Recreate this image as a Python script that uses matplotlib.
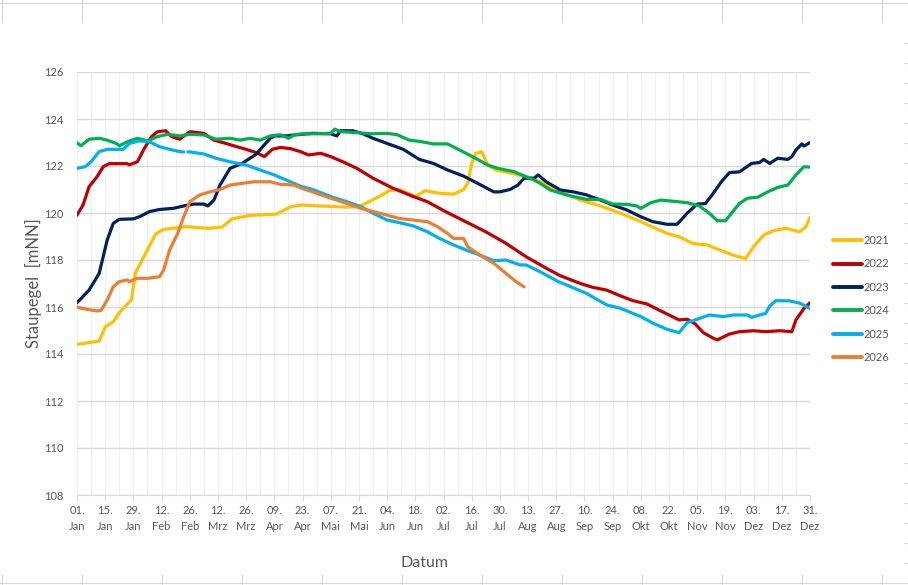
import numpy as np
import matplotlib
matplotlib.use('Agg')
import matplotlib.pyplot as plt
from matplotlib.lines import Line2D

plt.rcParams['font.family'] = ['Lato', 'DejaVu Sans']

# tick labels (every 14 days from 01. Jan)
tick_days = list(range(0, 365, 14))
tick_labels = ['01.\nJan', '15.\nJan', '29.\nJan', '12.\nFeb', '26.\nFeb', '12.\nMrz', '26.\nMrz',
               '09.\nApr', '23.\nApr', '07.\nMai', '21.\nMai', '04.\nJun', '18.\nJun', '02.\nJul',
               '16.\nJul', '30.\nJul', '13.\nAug', '27.\nAug', '10.\nSep', '24.\nSep', '08.\nOkt',
               '22.\nOkt', '05.\nNov', '19.\nNov', '03.\nDez', '17.\nDez', '31.\nDez']

years = ['2021', '2022', '2023', '2024', '2025', '2026']
colors = ['#FFC000', '#C00000', '#002060', '#00B050', '#00B0F0', '#ED7D31']

days_2021 = [0, 7, 11, 14, 18, 21, 27, 29, 33, 39, 43, 54, 65, 72, 77, 86, 99, 106, 111, 120, 134, 140,
             145, 150, 155, 160, 168, 173, 180, 187, 192, 194, 196, 198, 201, 204, 208, 216, 226, 230,
             240, 250, 260, 270, 280, 293, 299, 306, 313, 319, 326, 332, 336, 341, 346, 352, 359, 362, 364]
vals_2021 = [114.41, 114.5, 114.55, 115.16, 115.37, 115.76, 116.3, 117.45, 118.1, 119.1, 119.3, 119.42,
             119.35, 119.4, 119.75, 119.9, 119.95, 120.26, 120.34, 120.3, 120.25, 120.28, 120.48, 120.7,
             120.95, 121.0, 120.7, 120.95, 120.84, 120.8, 121.0, 121.26, 122.11, 122.54, 122.6, 122.04,
             121.83, 121.69, 121.48, 121.33, 120.9, 120.55, 120.3, 119.99, 119.63, 119.13, 118.99, 118.7,
             118.64, 118.43, 118.2, 118.06, 118.57, 119.06, 119.25, 119.35, 119.2, 119.42, 119.82]

days_2022 = [0, 3, 6, 10, 13, 16, 25, 26, 30, 33, 37, 40, 44, 47, 51, 56, 63, 68, 74, 81, 84, 89, 93, 97,
             101, 106, 111, 115, 121, 126, 132, 139, 147, 157, 167, 174, 183, 193, 203, 213, 223, 233,
             240, 250, 256, 263, 270, 276, 283, 289, 294, 299, 303, 307, 311, 316, 318, 324, 329, 336,
             342, 349, 355, 357, 361, 364]
vals_2022 = [119.91, 120.34, 121.12, 121.55, 121.97, 122.1, 122.1, 122.05, 122.18, 122.68, 123.25, 123.46,
             123.5, 123.25, 123.14, 123.46, 123.39, 123.1, 122.96, 122.78, 122.71, 122.57, 122.4, 122.71,
             122.79, 122.74, 122.61, 122.47, 122.54, 122.4, 122.18, 121.9, 121.48, 121.05, 120.7, 120.48,
             120.06, 119.63, 119.2, 118.71, 118.14, 117.65, 117.33, 117.0, 116.84, 116.72, 116.47, 116.27,
             116.13, 115.87, 115.66, 115.45, 115.48, 115.28, 114.91, 114.67, 114.6, 114.85, 114.95, 114.99,
             114.95, 114.99, 114.95, 115.45, 115.94, 116.18]

days_2023 = [0, 6, 11, 15, 18, 21, 28, 31, 36, 41, 48, 53, 58, 63, 65, 68, 71, 76, 82, 85, 89, 93, 96, 98,
             104, 109, 117, 126, 129, 131, 137, 142, 147, 154, 162, 170, 177, 184, 192, 199, 207, 210,
             215, 219, 222, 227, 229, 233, 240, 247, 253, 260, 266, 273, 280, 286, 293, 298, 303, 308,
             312, 316, 320, 324, 329, 335, 339, 341, 344, 348, 353, 355, 357, 360, 361, 364]
vals_2023 = [116.18, 116.72, 117.43, 118.85, 119.56, 119.73, 119.75, 119.84, 120.06, 120.15, 120.2, 120.3,
             120.38, 120.38, 120.3, 120.55, 121.19, 121.9, 122.11, 122.28, 122.5, 122.9, 123.18, 123.28,
             123.28, 123.33, 123.39, 123.37, 123.28, 123.5, 123.5, 123.37, 123.18, 122.96, 122.71, 122.28,
             122.11, 121.83, 121.57, 121.26, 120.9, 120.9, 121.0, 121.19, 121.48, 121.48, 121.62, 121.33,
             120.98, 120.89, 120.77, 120.55, 120.34, 120.13, 119.84, 119.63, 119.52, 119.52, 119.99, 120.38,
             120.4, 120.84, 121.33, 121.72, 121.75, 122.11, 122.15, 122.28, 122.11, 122.33, 122.28, 122.4,
             122.68, 122.94, 122.85, 123.0]

days_2024 = [0, 2, 6, 11, 15, 20, 21, 25, 30, 35, 40, 45, 51, 56, 63, 69, 76, 81, 86, 91, 96, 101, 105,
             108, 112, 119, 126, 128, 131, 139, 146, 154, 159, 165, 170, 177, 184, 190, 197, 204, 209, 217,
             227, 230, 235, 243, 253, 260, 266, 273, 278, 280, 285, 290, 296, 303, 309, 314, 318, 322, 325,
             329, 333, 338, 343, 348, 353, 357, 361, 364]
vals_2024 = [122.99, 122.86, 123.14, 123.18, 123.1, 122.94, 122.86, 123.03, 123.18, 123.07, 123.25, 123.35,
             123.28, 123.35, 123.32, 123.14, 123.18, 123.1, 123.18, 123.1, 123.28, 123.33, 123.18, 123.33,
             123.37, 123.37, 123.39, 123.57, 123.46, 123.42, 123.37, 123.39, 123.33, 123.1, 123.05, 122.94,
             122.94, 122.68, 122.37, 122.04, 121.9, 121.76, 121.4, 121.26, 120.98, 120.77, 120.58, 120.58,
             120.38, 120.37, 120.3, 120.2, 120.44, 120.55, 120.5, 120.44, 120.3, 119.99, 119.67, 119.67,
             119.99, 120.41, 120.63, 120.67, 120.9, 121.09, 121.19, 121.62, 121.97, 121.95]

days_2025 = [0, 4, 7, 11, 15, 18, 23, 26, 31, 36, 41, 46, 51, 53, 54, 55, 56, 63, 69, 76, 84, 91, 98, 104,
             111, 117, 126, 134, 141, 147, 154, 160, 167, 174, 180, 187, 194, 200, 207, 213, 220, 223, 230,
             239, 243, 253, 263, 270, 280, 286, 293, 299, 303, 308, 314, 321, 326, 333, 335, 339, 342, 344,
             347, 354, 359, 364]
vals_2025 = [121.9, 121.97, 122.18, 122.61, 122.71, 122.71, 122.71, 122.96, 123.07, 123.03, 122.82, 122.71,
             122.61, 122.6, np.nan, 122.6, 122.6, 122.51, 122.33, 122.18, 122.04, 121.83, 121.62, 121.4,
             121.14, 121.0, 120.7, 120.48, 120.27, 119.99, 119.7, 119.59, 119.45, 119.2, 118.92, 118.64,
             118.4, 118.21, 117.97, 118.0, 117.79, 117.79, 117.5, 117.08, 116.94, 116.58, 116.09, 115.94,
             115.59, 115.31, 115.05, 114.91, 115.33, 115.48, 115.66, 115.59, 115.66, 115.66, 115.56, 115.66,
             115.73, 116.04, 116.27, 116.26, 116.16, 115.94]

days_2026 = [0, 5, 10, 12, 15, 18, 21, 25, 26, 30, 35, 41, 43, 46, 50, 53, 56, 61, 66, 71, 76, 81, 88, 96,
             101, 108, 111, 117, 126, 134, 141, 147, 154, 160, 167, 174, 179, 184, 187, 192, 194, 200, 207,
             213, 218, 222]
vals_2026 = [115.99, 115.9, 115.83, 115.86, 116.3, 116.86, 117.08, 117.15, 117.08, 117.22, 117.22, 117.29,
             117.57, 118.43, 119.13, 119.84, 120.48, 120.77, 120.9, 121.0, 121.19, 121.25, 121.33, 121.33,
             121.22, 121.19, 121.07, 120.9, 120.63, 120.41, 120.2, 120.06, 119.91, 119.77, 119.7, 119.63,
             119.42, 119.13, 118.92, 118.92, 118.57, 118.21, 117.86, 117.43, 117.08, 116.86]

all_days = [days_2021, days_2022, days_2023, days_2024, days_2025, days_2026]
all_vals = [vals_2021, vals_2022, vals_2023, vals_2024, vals_2025, vals_2026]

W, H = 908, 585
fig = plt.figure(figsize=(W / 100, H / 100), dpi=100)

# faint spreadsheet cell borders around the chart object
grid_col = '#d9d9d9'
def px_line(x0, y0, x1, y1):
    fig.add_artist(Line2D([x0 / W, x1 / W], [1 - y0 / H, 1 - y1 / H], color=grid_col, lw=0.8))

px_line(0, 3, W, 3)
px_line(0, 583, W, 583)
for cx in range(2, W, 80):
    px_line(cx, 0, cx, 22)
    px_line(cx, 575, cx, H)
for ry in range(43, 575, 20):
    px_line(904, ry, W, ry)

ax = fig.add_axes([77 / W, 1 - 495 / H, (810 - 77) / W, (495 - 72) / H])

for yr, c, d, v in zip(years, colors, all_days, all_vals):
    ax.plot(d, v, color=c, lw=2.3, label=yr, solid_capstyle='round', solid_joinstyle='round')

ax.set_xlim(0, 364)
ax.set_ylim(108, 126)
ax.set_yticks(range(108, 127, 2))
ax.set_xticks(tick_days)
ax.set_xticklabels(tick_labels, linespacing=1.55)
ax.set_xticks(range(7, 364, 14), minor=True)

ax.grid(axis='y', which='major', color='#d9d9d9', lw=1.0)
ax.grid(axis='x', which='both', color='#f0f0f0', lw=0.8)
ax.set_axisbelow(True)

for s in ['top', 'right', 'left']:
    ax.spines[s].set_visible(False)
ax.spines['bottom'].set_color('#d9d9d9')
ax.tick_params(axis='y', length=0, pad=10, labelsize=8, labelcolor='#595959')
ax.tick_params(axis='x', which='major', length=4, color='#d9d9d9', pad=3, labelsize=8, labelcolor='#595959')
ax.tick_params(axis='x', which='minor', length=0)

ax.set_ylabel('Staupegel  [mNN]', fontsize=12, color='#595959', labelpad=1)
fig.text(425 / W, 1 - 563 / H, 'Datum', fontsize=11.5, color='#595959', ha='center', va='center')

leg = ax.legend(loc='upper left', bbox_to_anchor=(833 / W, 1 - 235 / H), bbox_transform=fig.transFigure,
                frameon=False, fontsize=8, handlelength=2.6, handletextpad=0.15, labelspacing=1.12,
                borderpad=0, borderaxespad=0)
for t in leg.get_texts():
    t.set_color('#595959')
for h in leg.get_lines():
    h.set_linewidth(2.8)

fig.savefig('out.png', dpi=100)
